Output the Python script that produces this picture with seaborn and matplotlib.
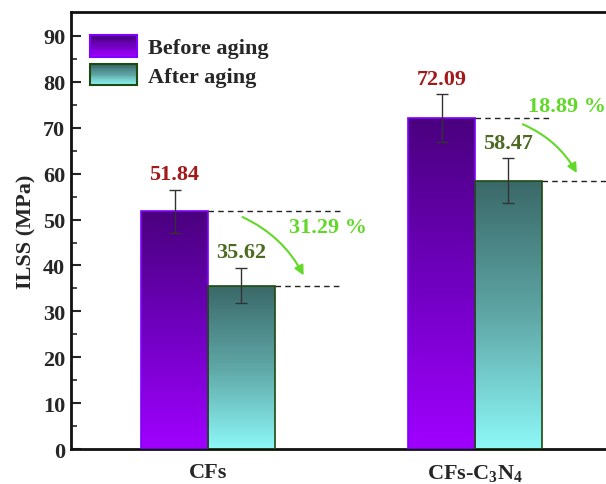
import numpy as np
import pandas as pd
import matplotlib
matplotlib.use("Agg")
import matplotlib.pyplot as plt
import seaborn as sns
from matplotlib.colors import LinearSegmentedColormap
from matplotlib.patches import Rectangle
from matplotlib.legend_handler import HandlerBase

# ---- data ----
categories = ["CFs", "CFs-C$_3$N$_4$"]
series = ["Before aging", "After aging"]
before_vals = [51.84, 72.09]
after_vals = [35.62, 58.47]
before_err = [4.7, 5.2]
after_err = [3.9, 4.9]
drop_pct = ["31.29 %", "18.89 %"]

sns.set_theme(style="ticks")
plt.rcParams["font.family"] = ["Liberation Serif", "DejaVu Serif"]
plt.rcParams["font.weight"] = "bold"
plt.rcParams["mathtext.fontset"] = "custom"
plt.rcParams["mathtext.rm"] = "Liberation Serif:bold"
plt.rcParams["mathtext.it"] = "Liberation Serif:bold"
plt.rcParams["mathtext.bf"] = "Liberation Serif:bold"

df = pd.DataFrame({
    "cat": categories * 2,
    "series": [series[0]] * 2 + [series[1]] * 2,
    "val": before_vals + after_vals,
})

fig = plt.figure(figsize=(6.06, 4.85), dpi=100)
ax = fig.add_axes([0.117, 0.072, 0.893, 0.901])

sns.barplot(data=df, x="cat", y="val", hue="series", ax=ax,
            width=0.5, errorbar=None, legend=False,
            palette=["#7a00c8", "#5aa8a8"])

cmap_before = LinearSegmentedColormap.from_list("b", ["#4a007e", "#7000c0", "#a000ff"])
cmap_after = LinearSegmentedColormap.from_list("a", ["#3a6868", "#5fa6a6", "#8ef8f8"])
edge_before = "#7f00ff"
edge_after = "#1e4a10"

grad = np.linspace(0, 1, 256).reshape(-1, 1)
patches = list(ax.patches)
for i, p in enumerate(patches):
    is_before = i < len(categories)
    cmap = cmap_before if is_before else cmap_after
    x0, y0 = p.get_x(), p.get_y()
    w, h = p.get_width(), p.get_height()
    p.set_facecolor("none")
    p.set_edgecolor(edge_before if is_before else edge_after)
    p.set_linewidth(1.2)
    p.set_zorder(3)
    im = ax.imshow(grad, extent=[x0, x0 + w, y0, y0 + h], origin="upper",
                   cmap=cmap, aspect="auto", zorder=2)
    im.set_clip_path(p)

bw = patches[0].get_width()
xs_before = [patches[i].get_x() + bw / 2 for i in range(2)]
xs_after = [patches[i + 2].get_x() + bw / 2 for i in range(2)]

ax.errorbar(xs_before, before_vals, yerr=before_err, fmt="none",
            ecolor="#333333", elinewidth=1.0, capsize=4, capthick=1.0, zorder=4)
ax.errorbar(xs_after, after_vals, yerr=after_err, fmt="none",
            ecolor="#333333", elinewidth=1.0, capsize=4, capthick=1.0, zorder=4)

# value labels
for x, v, e in zip(xs_before, before_vals, before_err):
    ax.text(x, v + e + 1.2, f"{v:.2f}", ha="center", va="bottom",
            color="#a31818", fontsize=16, fontweight="bold", zorder=5)
for x, v, e in zip(xs_after, after_vals, after_err):
    ax.text(x, v + e + 1.2, f"{v:.2f}", ha="center", va="bottom",
            color="#4d6a23", fontsize=16, fontweight="bold", zorder=5)

# dashed reference lines
dash_end_before = [0.494, 1.288]
dash_end_after = [0.494, 1.6]
for i in range(2):
    ax.plot([xs_before[i] + bw / 2, dash_end_before[i]], [before_vals[i]] * 2,
            ls=(0, (4, 3)), color="#222222", lw=1.0, zorder=4)
    ax.plot([xs_after[i] + bw / 2, dash_end_after[i]], [after_vals[i]] * 2,
            ls=(0, (4, 3)), color="#222222", lw=1.0, zorder=4)

# arrows
green = "#62d92a"
arrow_start = [(0.12, 50.8), (1.169, 71.0)]
arrow_end = [(0.363, 37.3), (1.386, 59.6)]
for s, e in zip(arrow_start, arrow_end):
    ax.annotate("", xy=e, xytext=s,
                arrowprops=dict(arrowstyle="-|>", color=green, lw=1.5,
                                connectionstyle="arc3,rad=-0.18",
                                mutation_scale=14), zorder=5)
pct_pos = [(0.45, 48.4), (1.345, 74.8)]
for (x, y), t in zip(pct_pos, drop_pct):
    ax.text(x, y, t, ha="center", va="center", color=green,
            fontsize=16, fontweight="bold", zorder=5)

# axes styling
ax.set_xlim(-0.513, 1.513)
ax.set_ylim(0, 95.2)
ax.set_yticks(np.arange(0, 91, 10))
ax.set_yticks(np.arange(5, 95, 10), minor=True)
ax.tick_params(axis="y", which="major", direction="in", length=7, width=1.5,
               labelsize=16, pad=4)
ax.tick_params(axis="y", which="minor", direction="in", length=4, width=1.2)
ax.tick_params(axis="x", length=0, labelsize=16, pad=9)
for lab in ax.get_xticklabels() + ax.get_yticklabels():
    lab.set_fontweight("bold")
ax.set_xlabel("")
ax.set_ylabel("ILSS (MPa)", fontsize=16, fontweight="bold", labelpad=5)
for side in ["left", "bottom", "top", "right"]:
    ax.spines[side].set_visible(True)
    ax.spines[side].set_linewidth(2.0)
    ax.spines[side].set_color("#111111")


# gradient legend handler
class GradHandler(HandlerBase):
    def __init__(self, cmap, edge):
        super().__init__()
        self.cmap = cmap
        self.edge = edge

    def create_artists(self, legend, orig_handle, xdescent, ydescent,
                       width, height, fontsize, trans):
        arts = []
        n = 24
        for k in range(n):
            c = self.cmap(k / (n - 1))
            yk = -ydescent + height * (1 - (k + 1) / n)
            r = Rectangle((-xdescent, yk), width, height / n + 0.05,
                          facecolor=c, edgecolor="none", transform=trans)
            arts.append(r)
        arts.append(Rectangle((-xdescent, -ydescent), width, height,
                              facecolor="none", edgecolor=self.edge, lw=1.5,
                              transform=trans))
        return arts


h1 = Rectangle((0, 0), 1, 1)
h2 = Rectangle((0, 0), 1, 1)
leg = ax.legend([h1, h2], series, loc="upper left",
                bbox_to_anchor=(0.035, 0.947), frameon=False,
                borderpad=0, borderaxespad=0,
                prop={"family": "Liberation Serif", "weight": "bold", "size": 16},
                handlelength=2.1, handleheight=1.1, handletextpad=0.5,
                labelspacing=0.25,
                handler_map={h1: GradHandler(cmap_before, edge_before),
                             h2: GradHandler(cmap_after, edge_after)})

fig.savefig("out.png", dpi=100)
